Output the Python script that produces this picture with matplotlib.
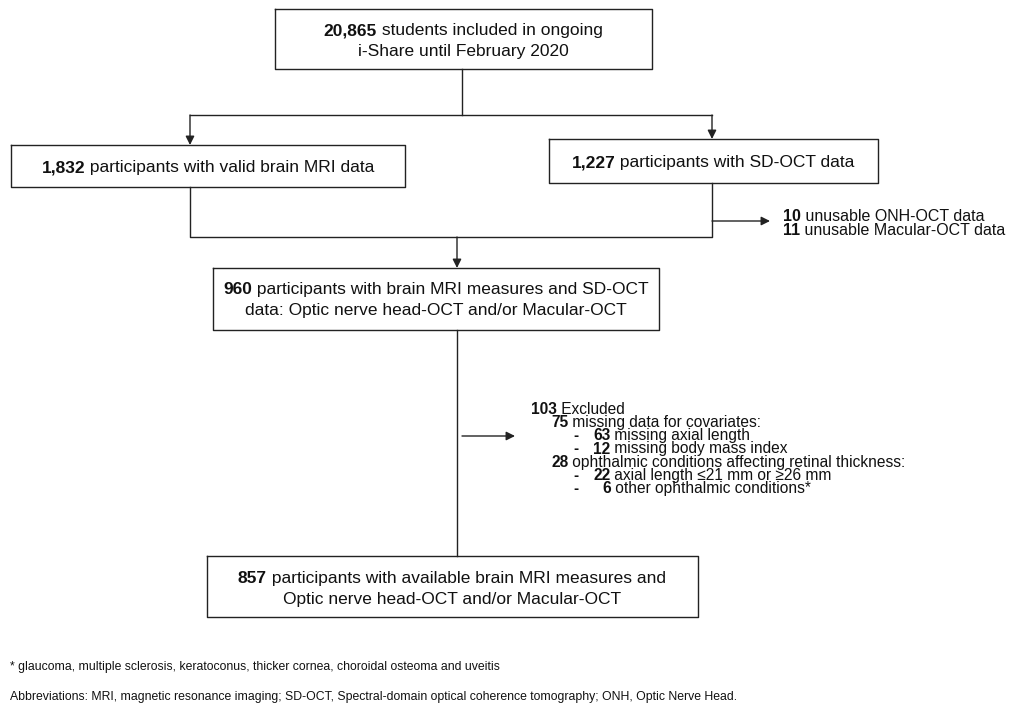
import matplotlib
matplotlib.use("Agg")
import matplotlib.pyplot as plt

plt.rcParams['font.family'] = ['Liberation Sans', 'DejaVu Sans']

# flow counts and labels
top_n, top_txt = "20,865", ["students included in ongoing", "i-Share until February 2020"]
mri_n, mri_txt = "1,832", "participants with valid brain MRI data"
oct_n, oct_txt = "1,227", "participants with SD-OCT data"
unusable_n = ["10", "11"]
unusable_txt = ["unusable ONH-OCT data", "unusable Macular-OCT data"]
both_n, both_txt = "960", ["participants with brain MRI measures and SD-OCT",
                           "data: Optic nerve head-OCT and/or Macular-OCT"]
excl_n = ["103", "75", "63", "12", "28", "22", "6"]
excl_txt = ["Excluded", "missing data for covariates:", "missing axial length",
            "missing body mass index", "ophthalmic conditions affecting retinal thickness:",
            "axial length \u226421 mm or \u226526 mm", "other ophthalmic conditions*"]
excl_level = [0, 1, 2, 2, 1, 2, 2]
final_n, final_txt = "857", ["participants with available brain MRI measures and",
                             "Optic nerve head-OCT and/or Macular-OCT"]
footnote = "* glaucoma, multiple sclerosis, keratoconus, thicker cornea, choroidal osteoma and uveitis"
abbrev = ("Abbreviations: MRI, magnetic resonance imaging; SD-OCT, Spectral-domain optical "
          "coherence tomography; ONH, Optic Nerve Head.")

FS = 12.5
FS_SIDE = 11.5
FS_EXCL = 11.2
LC = "#222222"
TC = "#111111"
LW = 1.0

fig = plt.figure(figsize=(10.34, 7.12), dpi=100)
ax = fig.add_axes([0, 0, 1, 1])
ax.set_xlim(0, 1034)
ax.set_ylim(712, 0)
ax.axis("off")
fig.canvas.draw()
renderer = fig.canvas.get_renderer()


def width(s, weight, fs):
    t = ax.text(0, 0, s, fontsize=fs, fontweight=weight)
    w = t.get_window_extent(renderer).width
    t.remove()
    return w


def mixed(x, y, parts, ha="center", fs=FS):
    # y is the visual centre of the capitals; draw on a shared baseline
    base = y + 0.36 * fs * 100 / 72
    ws = [width(s, wt, fs) for s, wt in parts]
    x0 = x - sum(ws) / 2 if ha == "center" else x
    for (s, wt), w in zip(parts, ws):
        ax.text(x0, base, s, fontsize=fs, fontweight=wt, va="baseline", ha="left", color=TC)
        x0 += w


def box(x0, y0, x1, y1):
    ax.plot([x0, x1, x1, x0, x0], [y0, y0, y1, y1, y0], color=LC, lw=LW)


def line(xs, ys):
    ax.plot(xs, ys, color=LC, lw=LW)


def arrow(x0, y0, x1, y1):
    ax.annotate("", xy=(x1, y1), xytext=(x0, y0),
                arrowprops=dict(arrowstyle="-|>", color=LC, lw=LW,
                                mutation_scale=13, shrinkA=0, shrinkB=0))


# top box
box(275, 9, 652, 69)
mixed(463, 29, [(top_n, "bold"), (" " + top_txt[0], "normal")])
mixed(463, 50, [(top_txt[1], "normal")])
line([462, 462], [69, 115])
line([190, 712], [115, 115])
arrow(190, 115, 190, 145)
arrow(712, 115, 712, 139)

# MRI and OCT boxes
box(11, 145, 405, 187)
mixed(208, 166, [(mri_n, "bold"), (" " + mri_txt, "normal")])
box(549, 139, 878, 183)
mixed(713, 161, [(oct_n, "bold"), (" " + oct_txt, "normal")])
line([190, 190, 712, 712], [187, 237, 237, 183])
arrow(712, 221, 770, 221)
for i, (n, s) in enumerate(zip(unusable_n, unusable_txt)):
    mixed(783, 215 + 14.5 * i, [(n, "bold"), (" " + s, "normal")], ha="left", fs=FS_SIDE)
arrow(457, 237, 457, 268)

# combined box
box(213, 268, 659, 330)
mixed(436, 288, [(both_n, "bold"), (" " + both_txt[0], "normal")])
mixed(436, 309, [(both_txt[1], "normal")])
line([457, 457], [330, 556])
arrow(462, 436, 515, 436)

# exclusions
indent = {0: 531, 1: 551, 2: 593}
for i, (n, s, lv) in enumerate(zip(excl_n, excl_txt, excl_level)):
    y = 408 + 13.3 * i
    x = indent[lv]
    if lv == 2:
        ax.text(573, y + 0.36 * FS_EXCL * 100 / 72, "-", fontsize=FS_EXCL, fontweight="bold",
                va="baseline", color=TC)
        if len(n) == 1:
            x += 9
    mixed(x, y, [(n, "bold"), (" " + s, "normal")], ha="left", fs=FS_EXCL)

# final box
box(207, 556, 698, 617)
mixed(452, 577, [(final_n, "bold"), (" " + final_txt[0], "normal")])
mixed(452, 598, [(final_txt[1], "normal")])

ax.text(10, 667, footnote, fontsize=8.8, va="center", color=TC)
ax.text(10, 697, abbrev, fontsize=8.8, va="center", color=TC)

fig.savefig("out.png", dpi=100)
